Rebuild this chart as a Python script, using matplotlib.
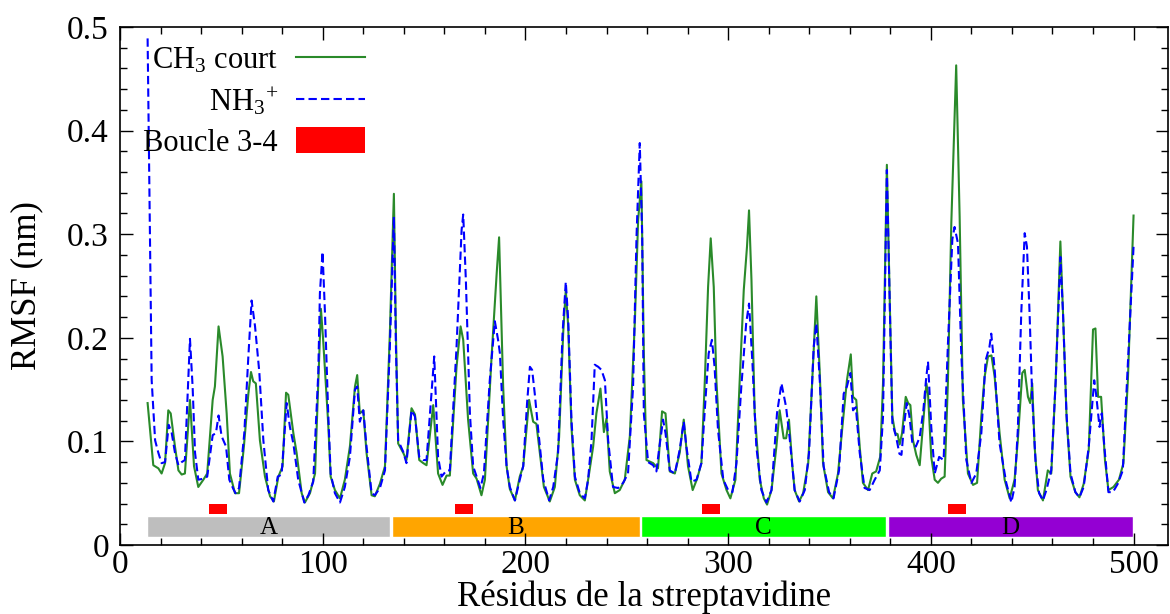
import matplotlib
matplotlib.use('Agg')
import matplotlib.pyplot as plt
from matplotlib.patches import Rectangle
from matplotlib.ticker import MultipleLocator

# RMSF per residue, CH3 court (green) - vertices
res_ch3 = [13.6, 16.4, 18.9, 20.5, 22.2, 23.8, 25.0, 27.1, 28.8, 30.4, 32.0, 34.5, 36.5, 38.6, 41.1,
           43.0, 45.7, 46.8, 48.6, 50.6, 52.6, 54.2, 56.7, 58.7, 61.1, 63.3, 64.6, 65.7, 67.0, 69.0,
           71.5, 74.0, 75.9, 78.1, 80.2, 81.9, 83.0, 85.5, 87.1, 89.6, 91.2, 93.7, 96.2, 99.1, 100.2,
           102.7, 103.9, 106.0, 108.5, 110.9, 113.4, 115.9, 117.0, 118.3, 120.0, 121.6, 124.1, 125.7,
           128.2, 130.7, 133.1, 135.1, 136.1, 137.2, 139.7, 141.3, 143.8, 145.5, 147.6, 149.6, 151.2,
           154.5, 156.9, 159.1, 161.1, 162.7, 166.0, 168.0, 169.3, 171.7, 174.2, 175.9, 178.3, 180.0,
           183.3, 185.8, 187.0, 189.0, 190.7, 192.3, 194.8, 197.2, 198.9, 201.8, 203.8, 205.4, 207.1,
           209.1, 212.0, 214.5, 216.6, 218.6, 219.9, 221.1, 222.7, 224.4, 226.8, 229.3, 231.4, 233.4,
           235.0, 237.0, 238.7, 240.0, 241.6, 244.1, 246.5, 249.0, 251.5, 254.0, 255.6, 257.2, 258.4,
           259.7, 263.0, 265.4, 267.4, 269.1, 271.2, 273.7, 276.1, 278.1, 280.2, 282.5, 284.7, 286.8,
           288.5, 290.1, 291.4, 292.9, 294.2, 296.7, 299.2, 301.1, 303.6, 305.7, 307.7, 309.3, 310.3,
           311.5, 313.1, 315.6, 317.6, 319.2, 321.4, 323.8, 325.4, 327.4, 328.6, 330.0, 331.7, 332.8,
           335.0, 337.0, 339.5, 341.9, 343.5, 345.2, 346.8, 349.3, 351.7, 354.2, 356.7, 358.6, 360.5,
           361.6, 363.2, 364.9, 366.5, 369.0, 371.1, 373.0, 375.0, 376.4, 378.3, 379.9, 381.0, 382.4,
           383.6, 384.6, 385.8, 387.6, 388.8, 389.9, 391.2, 392.8, 394.5, 395.8, 397.8, 398.6, 400.2,
           401.9, 403.5, 405.1, 406.8, 408.4, 410.1, 412.5, 414.2, 415.8, 418.3, 420.8, 422.8, 424.9,
           426.5, 428.2, 429.9, 431.5, 433.9, 436.4, 438.9, 441.3, 442.9, 445.1, 446.3, 447.9, 449.0,
           450.0, 451.2, 452.8, 455.3, 457.7, 459.4, 461.6, 463.9, 465.2, 467.0, 468.9, 471.3, 473.3,
           475.4, 477.9, 480.0, 481.2, 482.5, 484.0, 485.9, 487.6, 490.1, 492.8, 495.0, 497.2, 500.0]
rmsf_ch3 = [0.137, 0.077, 0.074, 0.069, 0.079, 0.130, 0.127, 0.095, 0.072, 0.068, 0.069, 0.140, 0.076, 0.056, 0.063,
            0.069, 0.140, 0.153, 0.211, 0.182, 0.127, 0.069, 0.050, 0.050, 0.095, 0.146, 0.167, 0.158, 0.156, 0.101,
            0.066, 0.047, 0.042, 0.066, 0.076, 0.147, 0.145, 0.108, 0.089, 0.050, 0.041, 0.050, 0.069, 0.228, 0.198,
            0.117, 0.066, 0.053, 0.045, 0.063, 0.095, 0.153, 0.164, 0.127, 0.130, 0.089, 0.048, 0.047,
            0.059, 0.076, 0.204, 0.339, 0.204, 0.098, 0.089, 0.082, 0.132, 0.126, 0.082, 0.079, 0.077,
            0.135, 0.069, 0.058, 0.067, 0.067, 0.172, 0.211, 0.198, 0.121, 0.069, 0.064, 0.048, 0.063,
            0.182, 0.262, 0.297, 0.153, 0.076, 0.054, 0.043, 0.066, 0.076, 0.140, 0.119, 0.117, 0.089,
            0.056, 0.042, 0.056, 0.104, 0.204, 0.246, 0.211, 0.114, 0.063, 0.048, 0.043, 0.069, 0.095,
            0.127, 0.151, 0.109, 0.122, 0.071, 0.050, 0.053, 0.063, 0.105, 0.217, 0.314, 0.351, 0.185,
            0.082, 0.079, 0.074, 0.129, 0.127, 0.071, 0.069, 0.089, 0.121, 0.076, 0.053, 0.064, 0.079,
            0.159, 0.249, 0.296, 0.249, 0.159, 0.069, 0.053, 0.045, 0.063, 0.159, 0.246, 0.288, 0.323,
            0.256, 0.127, 0.063, 0.045, 0.039, 0.053, 0.095, 0.130, 0.103, 0.103, 0.121, 0.076, 0.053,
            0.042, 0.050, 0.079, 0.175, 0.240, 0.166, 0.079, 0.051, 0.045, 0.069, 0.121, 0.159, 0.184,
            0.143, 0.140, 0.095, 0.060, 0.053, 0.069, 0.071, 0.085, 0.156, 0.367, 0.220, 0.124, 0.108,
            0.107, 0.097, 0.108, 0.143, 0.137, 0.135, 0.101, 0.087, 0.077, 0.108, 0.156, 0.146, 0.085,
            0.063, 0.060, 0.064, 0.066, 0.156, 0.311, 0.463, 0.317, 0.140, 0.069, 0.058, 0.060, 0.124,
            0.162, 0.182, 0.183, 0.162, 0.108, 0.063, 0.045, 0.063, 0.101, 0.166, 0.169, 0.143, 0.137,
            0.156, 0.095, 0.053, 0.043, 0.072, 0.069, 0.159, 0.293, 0.224, 0.121, 0.066, 0.051, 0.046,
            0.059, 0.092, 0.208, 0.209, 0.143, 0.143, 0.082, 0.053, 0.056, 0.063, 0.079, 0.159, 0.318]

# RMSF per residue, NH3+ (blue dashed)
res_nh3 = [13.6, 15.6, 17.3, 18.9, 20.5, 22.2, 24.0, 25.5, 27.1, 28.8, 30.4, 32.0, 34.5, 35.8, 37.0,
           38.6, 41.1, 43.0, 45.7, 47.3, 48.6, 50.1, 52.3, 53.9, 55.9, 57.0, 58.7, 61.3, 63.3, 64.9,
           66.6, 68.7, 70.7, 73.1, 75.6, 77.8, 79.7, 82.2, 83.8, 85.5, 87.9, 90.9, 92.9, 95.3, 97.8,
           98.6, 99.9, 101.1, 102.7, 103.9, 106.0, 108.5, 110.9, 113.4, 115.9, 117.0, 118.3, 120.0,
           121.6, 124.1, 125.7, 128.2, 130.7, 133.1, 135.1, 136.1, 137.2, 139.7, 141.3, 143.8, 145.5,
           147.6, 149.6, 151.2, 155.0, 156.9, 158.6, 161.1, 162.7, 166.0, 168.5, 169.3, 170.6, 172.6,
           174.2, 175.9, 177.8, 179.5, 182.4, 184.9, 186.5, 187.4, 189.0, 190.7, 192.3, 194.8, 197.2,
           198.9, 200.8, 202.2, 203.3, 204.6, 206.3, 208.8, 211.7, 213.7, 216.1, 218.3, 219.9, 221.1,
           222.7, 224.4, 226.8, 229.3, 230.9, 232.6, 234.2, 235.9, 237.5, 239.2, 240.8, 243.2, 245.7,
           248.2, 250.6, 253.1, 254.8, 256.4, 257.6, 258.4, 260.5, 263.0, 264.6, 265.9, 267.9, 269.1,
           271.2, 273.7, 276.1, 278.1, 279.4, 281.9, 284.4, 286.8, 288.9, 290.4, 292.0, 293.3, 295.0,
           297.6, 300.0, 302.1, 304.1, 306.5, 308.9, 310.3, 312.0, 313.9, 316.4, 318.9, 321.4, 324.1,
           326.3, 328.6, 330.3, 332.8, 335.3, 337.8, 339.9, 342.2, 343.5, 345.2, 347.1, 349.8, 352.0,
           354.7, 357.0, 358.6, 360.3, 361.6, 363.0, 364.9, 367.3, 369.8, 372.3, 374.8, 376.4, 378.3,
           379.9, 381.0, 382.9, 384.5, 385.5, 386.7, 388.1, 389.4, 390.9, 392.6, 394.5, 396.3, 397.6,
           398.6, 400.2, 401.9, 404.1, 406.3, 408.4, 410.6, 411.7, 413.4, 415.0, 417.5, 420.0, 422.4,
           424.9, 427.0, 428.9, 429.8, 431.5, 433.9, 437.2, 439.7, 441.3, 442.9, 444.6, 446.3, 447.4,
           448.7, 450.0, 451.7, 453.4, 455.3, 457.0, 459.4, 461.6, 463.9, 465.2, 466.9, 468.9, 471.3,
           473.3, 475.4, 477.9, 480.6, 481.5, 483.2, 484.3, 485.6, 487.6, 489.8, 492.2, 494.7, 496.4,
           498.4, 500.0]
rmsf_nh3 = [0.489, 0.159, 0.101, 0.089, 0.079, 0.080, 0.116, 0.108, 0.089, 0.077, 0.080, 0.082, 0.199, 0.153, 0.089,
            0.063, 0.064, 0.066, 0.106, 0.108, 0.125, 0.105, 0.095, 0.063, 0.054, 0.050, 0.055, 0.108, 0.182, 0.236,
            0.211, 0.167, 0.101, 0.053, 0.042, 0.066, 0.068, 0.137, 0.114, 0.098, 0.063, 0.041, 0.048, 0.061, 0.166,
            0.243, 0.283, 0.224, 0.127, 0.069, 0.050, 0.041, 0.056, 0.085, 0.150, 0.153, 0.119, 0.130,
            0.095, 0.050, 0.048, 0.055, 0.072, 0.191, 0.317, 0.191, 0.101, 0.090, 0.079, 0.130, 0.124,
            0.085, 0.082, 0.082, 0.182, 0.085, 0.066, 0.072, 0.072, 0.191, 0.304, 0.319, 0.256, 0.127,
            0.076, 0.066, 0.055, 0.069, 0.159, 0.216, 0.198, 0.185, 0.121, 0.076, 0.056, 0.043, 0.063,
            0.076, 0.137, 0.172, 0.169, 0.146, 0.111, 0.063, 0.043, 0.056, 0.089, 0.204, 0.254, 0.217,
            0.121, 0.066, 0.050, 0.045, 0.063, 0.101, 0.174, 0.172, 0.169, 0.159, 0.101, 0.056, 0.055,
            0.060, 0.069, 0.153, 0.298, 0.388, 0.298, 0.127, 0.080, 0.077, 0.071, 0.092, 0.121, 0.108,
            0.072, 0.069, 0.092, 0.119, 0.095, 0.061, 0.063, 0.079, 0.143, 0.185, 0.198, 0.172, 0.111,
            0.063, 0.053, 0.051, 0.079, 0.153, 0.214, 0.233, 0.175, 0.095, 0.053, 0.041, 0.053, 0.127,
            0.156, 0.133, 0.104, 0.053, 0.042, 0.053, 0.089, 0.191, 0.214, 0.159, 0.076, 0.051, 0.045,
            0.072, 0.146, 0.153, 0.166, 0.130, 0.133, 0.089, 0.055, 0.053, 0.063, 0.072, 0.124, 0.362,
            0.220, 0.118, 0.104, 0.088, 0.087, 0.114, 0.137, 0.125, 0.098, 0.095, 0.104, 0.130, 0.159,
            0.177, 0.114, 0.069, 0.085, 0.082, 0.193, 0.295, 0.307, 0.291, 0.185, 0.082, 0.060, 0.069,
            0.108, 0.178, 0.191, 0.204, 0.169, 0.098, 0.060, 0.041, 0.056, 0.111, 0.224, 0.301, 0.288,
            0.224, 0.143, 0.079, 0.050, 0.043, 0.053, 0.072, 0.159, 0.278, 0.224, 0.127, 0.069, 0.051,
            0.046, 0.056, 0.095, 0.159, 0.146, 0.114, 0.127, 0.095, 0.051, 0.051, 0.059, 0.072, 0.143,
            0.224, 0.288]

# loop 3-4 position in each chain (start, end)
loop_start = [44.0, 165.2, 287.3, 408.4]
loop_end = [52.8, 174.2, 296.2, 417.5]

# chains of the tetramer
chain_names = ['A', 'B', 'C', 'D']
chain_start = [13.3, 134.1, 256.9, 378.7]
chain_end = [133.1, 256.4, 377.7, 499.5]
chain_colors = ['#bebebe', '#ffa500', '#00ff00', '#9400d3']

plt.rcParams['font.family'] = ['Liberation Serif', 'DejaVu Serif']
plt.rcParams['mathtext.fontset'] = 'custom'
plt.rcParams['mathtext.rm'] = 'Liberation Serif'
plt.rcParams['mathtext.it'] = 'Liberation Serif:italic'

fig = plt.figure(figsize=(11.7, 6.14), dpi=100)
ax = fig.add_axes([0.1026, 0.1124, 0.8957, 0.8436])

ax.plot(res_ch3, rmsf_ch3, color='#2a8a2a', lw=1.5, label='CH$_3$ court')
ax.plot(res_nh3, rmsf_nh3, color='#0000ff', lw=1.5, ls=(0, (4, 2)), label='NH$_3$$^{+}$')

# loop 3-4 markers
for i in range(len(loop_start)):
    ax.add_patch(Rectangle((loop_start[i], 0.030), loop_end[i] - loop_start[i], 0.010,
                           facecolor='#ff0000', edgecolor='none',
                           label='Boucle 3-4' if i == 0 else None))

# chain bars
for i in range(len(chain_names)):
    ax.add_patch(Rectangle((chain_start[i], 0.008), chain_end[i] - chain_start[i], 0.020,
                           facecolor=chain_colors[i], edgecolor='white', lw=1))
    ax.text((chain_start[i] + chain_end[i]) / 2, 0.0165, chain_names[i],
            ha='center', va='center', fontsize=18)

ax.set_xlim(0, 517)
ax.set_ylim(0, 0.5)
ax.xaxis.set_major_locator(MultipleLocator(100))
ax.xaxis.set_minor_locator(MultipleLocator(20))
ax.set_yticks([0, 0.1, 0.2, 0.3, 0.4, 0.5])
ax.set_yticklabels(['0', '0.1', '0.2', '0.3', '0.4', '0.5'])
ax.yaxis.set_minor_locator(MultipleLocator(0.02))
ax.tick_params(which='both', direction='in', top=True, right=True, labelsize=24)
ax.tick_params(axis='y', pad=8)
ax.tick_params(which='major', length=9, width=1)
ax.tick_params(which='minor', length=5, width=1)
for s in ax.spines.values():
    s.set_linewidth(1.2)

ax.set_xlabel('Résidus de la streptavidine', fontsize=25, labelpad=0)
ax.set_ylabel('RMSF (nm)', fontsize=25, labelpad=17)

ax.legend(loc='upper right', bbox_to_anchor=(0.251, 1.0), frameon=False,
          markerfirst=False, fontsize=22, handlelength=2.25, handleheight=0.9,
          handletextpad=0.6, labelspacing=0.33, borderaxespad=0.2)

fig.savefig('out.png', dpi=100)
